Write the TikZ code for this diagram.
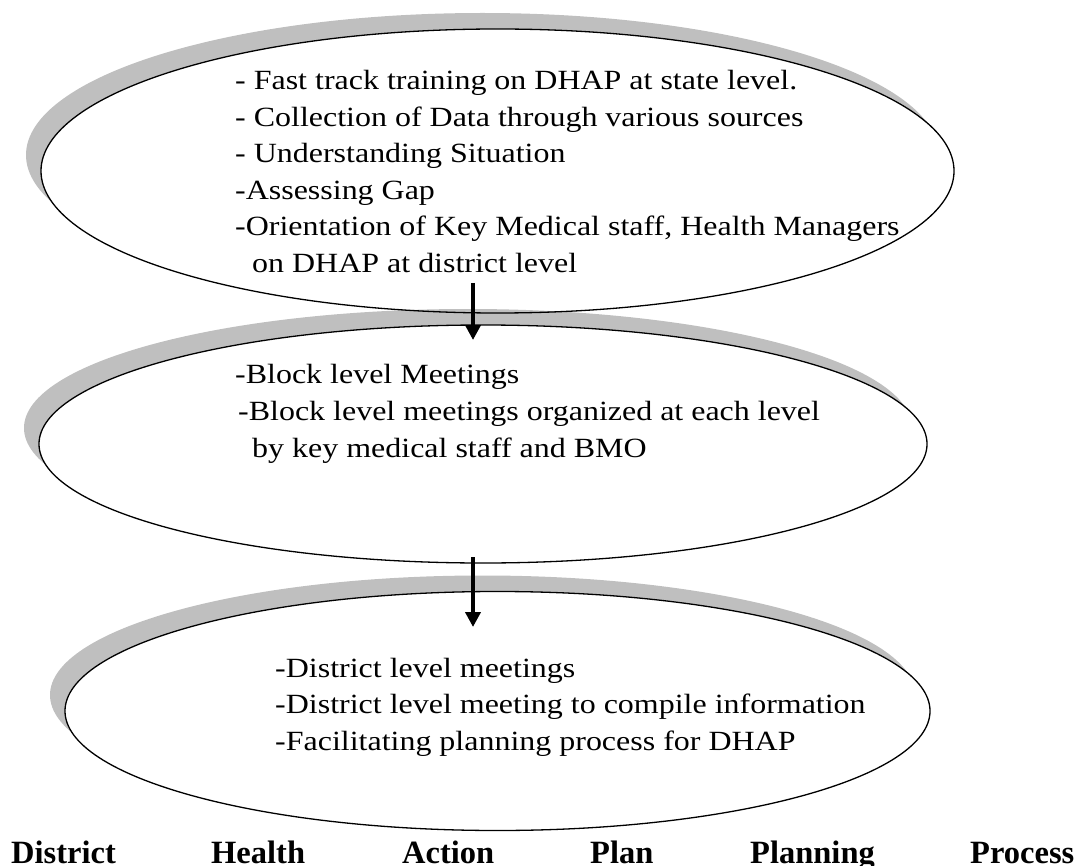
\documentclass[tikz,border=0pt]{standalone}
\usepackage{fontspec}
\setmainfont{Liberation Serif}
\newfontfamily\wideserif[FakeStretch=1.15]{Liberation Serif}
\usetikzlibrary{shapes.geometric,arrows.meta}
\tikzset{
  shadowell/.style={ellipse, inner sep=0pt, draw=none, fill=black, fill opacity=0.25},
  mainell/.style={ellipse, inner sep=0pt, draw=black, line width=1.3pt, fill=white},
  txt/.style={inner sep=0pt, anchor=base west, font=\wideserif\fontsize{27.8}{36}\selectfont},
  captxt/.style={inner sep=0pt, anchor=base west, font=\fontsize{32.5}{36}\selectfont\bfseries},
  flow/.style={line width=4pt, -{Triangle[length=15pt,width=15pt]}}
}
\begin{document}
\begin{tikzpicture}[x=1pt,y=-1pt]
\useasboundingbox (0,0) rectangle (1075,866);
% ellipse 1
\node[shadowell, minimum width=913pt, minimum height=284pt] (s1) at (482.5,155) {};
\node[mainell, minimum width=913pt, minimum height=284pt] (e1) at (497.5,171) {};
% ellipse 2
\node[shadowell, minimum width=888pt, minimum height=238pt] (s2) at (468,428) {};
\node[mainell, minimum width=888pt, minimum height=238pt] (e2) at (483,444) {};
% ellipse 3
\node[shadowell, minimum width=865pt, minimum height=239pt] (s3) at (482.5,695) {};
\node[mainell, minimum width=865pt, minimum height=239pt] (e3) at (497.5,711) {};
% texts ellipse 1
\node[txt] (t11) at (235,90) {- Fast track training on DHAP at state level.};
\node[txt] (t12) at (235,126.5) {- Collection of Data through various sources};
\node[txt] (t13) at (235,163) {- Understanding Situation};
\node[txt] (t14) at (235,199.5) {-Assessing Gap};
\node[txt] (t15) at (235,236) {-Orientation of Key Medical staff, Health Managers};
\node[txt] (t16) at (252,273) {on DHAP at district level};
% texts ellipse 2
\node[txt] (t21) at (235,383) {-Block level Meetings};
\node[txt] (t22) at (238,420) {-Block level meetings organized at each level};
\node[txt] (t23) at (252,457) {by key medical staff and BMO};
% texts ellipse 3
\node[txt] (t31) at (275,677) {-District level meetings};
\node[txt] (t32) at (275,713.5) {-District level meeting to compile information};
\node[txt] (t33) at (275,750) {-Facilitating planning process for DHAP};
% caption
\node[captxt] (c1) at (11,863) {District};
\node[captxt] (c2) at (211,863) {Health};
\node[captxt] (c3) at (402,863) {Action};
\node[captxt] (c4) at (590,863) {Plan};
\node[captxt] (c5) at (750,863) {Planning};
\node[captxt] (c6) at (970,863) {Process};
% arrows
\coordinate (a1s) at (473,283);
\coordinate (a1e) at (473,340);
\coordinate (a2s) at (473,557);
\coordinate (a2e) at (473,627);
\draw[flow] (a1s) -- (a1e);
\draw[flow] (a2s) -- (a2e);
\end{tikzpicture}
\end{document}
